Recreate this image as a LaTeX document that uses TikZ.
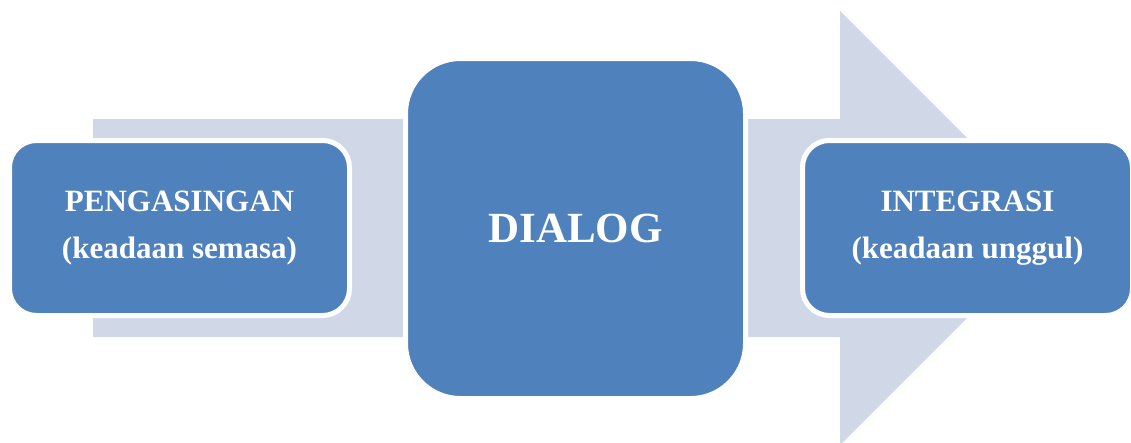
\documentclass[tikz,border=0pt]{standalone}
\usepackage{fontspec}
\setmainfont{Liberation Serif}
\usepackage{tikz}
\usetikzlibrary{positioning}
\definecolor{boxblue}{HTML}{4F81BD}
\definecolor{arrowgray}{HTML}{D0D8E8}
\tikzset{stage/.style={ % Sets the properties for each stage box
			draw=white,
			line width=5pt,
			fill=boxblue,
			text=white,
			font=\bfseries\fontsize{31}{47}\selectfont,
			align=center,
			inner sep=0pt,
			rounded corners=27pt,
			minimum height=175pt}}

\begin{document}
\begin{tikzpicture}[x=1pt,y=-1pt]
			\useasboundingbox (0,0) rectangle (1131,442);
			% the big arrow behind the boxes
			\fill[arrowgray] (93,119) -- (840,119) -- (840,11) -- (1057,228)
				-- (840,445) -- (840,337) -- (93,337) -- cycle;
			
			\node[stage, minimum width=340pt] (P) at (179.5,228) {PENGASINGAN\\(keadaan semasa)};
			\node[stage, minimum width=340pt, minimum height=340pt, rounded corners=55pt,
				font=\bfseries\fontsize{43}{50}\selectfont] (D) at (575.5,228.5) {DIALOG};
			\node[stage, minimum width=330pt] (I) at (967.5,228) {INTEGRASI\\(keadaan unggul)};
		\end{tikzpicture}
\end{document}
